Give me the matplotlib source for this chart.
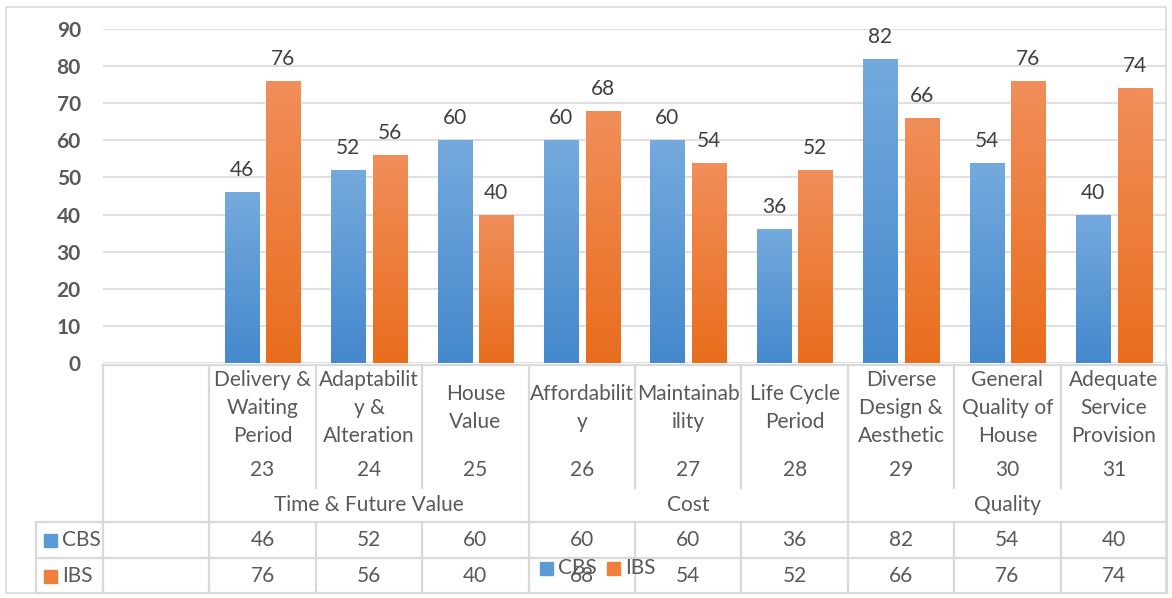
import numpy as np
import matplotlib.pyplot as plt
from matplotlib.patches import Rectangle
from matplotlib.colors import LinearSegmentedColormap

# data
items = ["Delivery &\nWaiting\nPeriod", "Adaptabilit\ny &\nAlteration", "House\nValue",
         "Affordabilit\ny", "Maintainab\nility", "Life Cycle\nPeriod",
         "Diverse\nDesign &\nAesthetic", "General\nQuality of\nHouse", "Adequate\nService\nProvision"]
item_no = [23, 24, 25, 26, 27, 28, 29, 30, 31]
groups = ["Time & Future Value", "Cost", "Quality"]
group_size = [3, 3, 3]
cbs = [46, 52, 60, 60, 60, 36, 82, 54, 40]
ibs = [76, 56, 40, 68, 54, 52, 66, 76, 74]
series = ["CBS", "IBS"]

plt.rcParams['font.family'] = ['Lato', 'DejaVu Sans']
txt = '#595959'
grid_c = '#D9D9D9'
blue_top, blue_bot = '#74AADD', '#4588CD'
orng_top, orng_bot = '#F18E5A', '#E96D1D'
fs = 15

W, H = 1172, 598
fig = plt.figure(figsize=(W / 100, H / 100), dpi=100)

# overlay in pixel coords for the data table and frame
ov = fig.add_axes([0, 0, 1, 1])
ov.set_xlim(0, W)
ov.set_ylim(H, 0)
ov.axis('off')

x_left, x_right = 103, 1167
y0, y90 = 363, 29
ncat = len(items) + 1
cw = (x_right - x_left) / ncat

ax = fig.add_axes([x_left / W, 1 - y0 / H, (x_right - x_left) / W, (y0 - y90) / H])
ax.patch.set_alpha(0)
for s in ax.spines.values():
    s.set_visible(False)

pos = np.arange(1, ncat)
bw = 0.32
off = 0.195

def grad_bars(xs, vals, top, bot):
    cmap = LinearSegmentedColormap.from_list('g', [bot, top])
    bars = ax.bar(xs, vals, width=bw, color=bot, zorder=3)
    grad = np.linspace(0, 1, 256).reshape(-1, 1)
    for b in bars:
        b.set_facecolor('none')
        x0 = b.get_x()
        h = b.get_height()
        im = ax.imshow(grad, extent=[x0, x0 + bw, 0, h], origin='lower',
                       cmap=cmap, aspect='auto', zorder=3)
        im.set_clip_path(b)
    for xx, v in zip(xs, vals):
        ax.annotate(str(v), (xx, v), xytext=(0, 22), textcoords='offset pixels',
                    ha='center', va='center', fontsize=fs, color='#404040')

grad_bars(pos - off, cbs, blue_top, blue_bot)
grad_bars(pos + off, ibs, orng_top, orng_bot)

ax.set_xlim(-0.5, ncat - 0.5)
ax.set_ylim(0, 90)
ax.set_yticks(range(0, 91, 10))
ax.set_yticklabels([str(v) for v in range(0, 91, 10)], fontsize=fs,
                   fontweight='bold', color=txt)
ax.tick_params(axis='y', length=0, pad=16)
ax.set_xticks([])
ax.yaxis.grid(True, color=grid_c, lw=1.2, zorder=0)
ax.set_axisbelow(True)

# frame
ov.add_patch(Rectangle((6, 7), 1160, 586, fill=False, ec=grid_c, lw=1.2))

# table lines
lc = dict(color=grid_c, lw=1.6)
row1, row2, row3, bottom = 365, 522, 558, 593
ov.plot([x_left, x_right], [row1, row1], **lc)
for yy in (row2, row3, bottom):
    ov.plot([36, x_right], [yy, yy], **lc)
ov.plot([36, 36], [row2, bottom], **lc)
ov.plot([x_left, x_left], [row1, bottom], **lc)
edges = x_left + cw * np.arange(1, ncat + 1)
gstart = np.cumsum([1] + group_size[:-1])
for k, e in enumerate(edges):
    idx = k + 1
    if idx in gstart or idx == ncat:
        ov.plot([e, e], [row1, bottom], **lc)
    else:
        ov.plot([e, e], [row1, 488], **lc)
        ov.plot([e, e], [row2, bottom], **lc)

# category labels, numbers, values
for i in range(len(items)):
    cx = x_left + (i + 1.5) * cw
    ov.text(cx, 408, items[i], ha='center', va='center', fontsize=fs,
            color=txt, linespacing=1.5)
    ov.text(cx, 470, str(item_no[i]), ha='center', va='center', fontsize=fs, color=txt)
    ov.text(cx, 540, str(cbs[i]), ha='center', va='center', fontsize=fs, color=txt)
    ov.text(cx, 576, str(ibs[i]), ha='center', va='center', fontsize=fs, color=txt)

start = 1
for g, n in zip(groups, group_size):
    gx = x_left + (start + n / 2) * cw
    ov.text(gx, 505, g, ha='center', va='center', fontsize=fs, color=txt)
    start += n

# legend keys in the table
for yy, name, col in ((540, series[0], '#5B9BD5'), (576, series[1], '#EE7F3F')):
    ov.add_patch(Rectangle((44, yy - 6), 13, 13, color=col))
    ov.text(62, yy, name, ha='left', va='center', fontsize=fs, color=txt)

# bottom legend (sits over the table, as in the original)
for lx, name, col in ((540, series[0], '#5B9BD5'), (607, series[1], '#EE7F3F')):
    ov.add_patch(Rectangle((lx, 562), 13, 13, color=col, zorder=5))
    ov.text(lx + 18, 568, name, ha='left', va='center', fontsize=fs, color=txt, zorder=5)

fig.savefig('out.png', dpi=100)
